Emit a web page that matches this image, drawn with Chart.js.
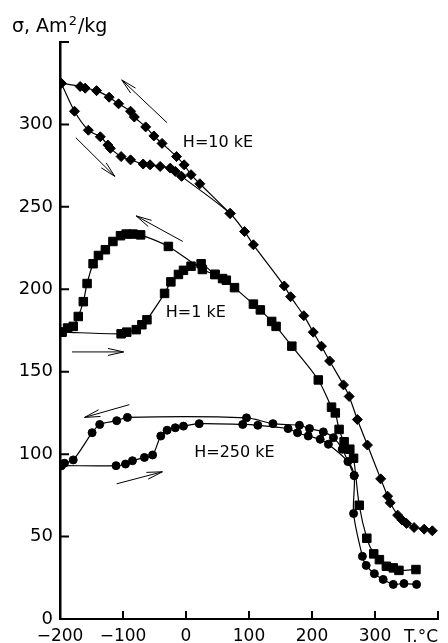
<!DOCTYPE html>
<html>
<head>
<meta charset="utf-8">
<script src="https://cdn.jsdelivr.net/npm/chart.js@4.4.1/dist/chart.umd.min.js"></script>
<style>
  html, body { margin: 0; padding: 0; background: #fff; }
  canvas { display: block; }
</style>
</head>
<body>
<canvas id="chart" width="448" height="643"></canvas>
<script>
const xTicks = [-200, -100, 0, 100, 200, 300, 400];
const yTicks = [0, 50, 100, 150, 200, 250, 300, 350];
const fieldLabels = ["H=10 kE", "H=1 kE", "H=250 kE"];

// [T, sigma] pairs
const h10Heating = [[-198, 325], [-177, 308], [-155, 296.5], [-136, 292.5], [-124, 287.5], [-120, 285.5],
  [-103, 280.5], [-88, 278.5], [-68, 276], [-57, 275.5], [-41, 274.5], [-25, 273.5], [-17, 271.5], [-7, 268.5],
  [70, 246], [93, 235], [107, 227], [156, 202], [166, 195.5], [187, 184], [202, 174], [215, 165.5],
  [228, 156.5], [250, 142], [259, 135], [272, 121], [288, 105.5], [309, 85], [320, 74.5], [324, 70.5],
  [336, 63], [343, 60], [350, 58], [362, 55.5], [378, 54.5], [391, 53.5]];
const h10Cooling = [[70, 246], [22, 264], [8, 269.5], [-3, 275.5], [-15, 280.5], [-38, 288.5], [-51, 293],
  [-64, 298.5], [-82, 304.5], [-88, 308], [-107, 312.5], [-122, 316.5], [-142, 320.5], [-160, 322],
  [-168, 323], [-198, 325]];

const h1Heating = [[-197, 174], [-103, 173], [-94, 174], [-79, 175.5], [-70, 178.5], [-62, 181.5],
  [-34, 197.5], [-24, 204.5], [-12, 209], [-4, 211.5], [8, 214], [24, 215.5], [46, 209], [58, 206.5],
  [64, 205.5], [77, 201], [107, 191], [118, 187.5], [136, 180.5], [143, 177.5], [168, 165.5], [210, 145],
  [231, 128.5], [237, 125], [243, 115], [251, 107.5], [260, 103], [266, 97.5], [275, 69], [287, 49],
  [298, 39.5], [307, 36], [318, 32], [329, 31], [338, 29.5], [365, 30]];
const h1Cooling = [[46, 209], [26, 212], [-28, 226], [-72, 233], [-84, 233.5], [-95, 233.5], [-104, 232.5],
  [-116, 229], [-128, 224], [-139, 220.5], [-147.5, 215.5], [-157, 203.5], [-163, 192.5], [-171, 183.5],
  [-179, 177.5], [-188, 176.5], [-197, 174]];

const h250Heating = [[-198, 93], [-111, 93], [-96, 94], [-85, 96], [-66, 98], [-53, 99.5], [-40, 111],
  [-30, 114.5], [-17, 116], [-4, 117], [21, 118.5], [90, 118], [114, 117.5], [162, 115.5], [177, 113],
  [194, 111], [213, 109], [226, 106], [257, 95.5], [267, 87], [266, 64], [280, 38], [286, 32.5],
  [299, 27.5], [313, 24], [329, 21], [346, 21.5], [366, 21]];
const h250Cooling = [[267, 87], [248, 103], [234, 110], [218, 113.5], [196, 115.5], [180, 117.5],
  [138, 118.5], [96, 122], [-93, 122.3], [-110, 120.3], [-137, 118], [-149, 113], [-179, 96.5],
  [-193, 94.5], [-198, 93]];

// arrows [T1, s1, T2, s2], head at the second point
const arrows = [[-30, 301, -102, 327], [-175, 292, -113, 268.5], [-5, 229, -79, 244.5],
  [-181, 162, -99, 162], [-90, 130, -161, 122.3], [-110, 82, -37.5, 89.3]];
const labelSpots = [[-5, 289], [-32, 186], [13, 101]];

const FONT = "'DejaVu Sans', sans-serif";

function branch(pairs, style, radius) {
  return {
    data: pairs.map(([x, y]) => ({ x, y })),
    borderColor: '#000',
    backgroundColor: '#000',
    borderWidth: 1.2,
    pointStyle: style,
    pointRadius: radius,
    pointBorderWidth: 1,
    tension: 0.3,
    showLine: true
  };
}

const extras = {
  id: 'extras',
  afterDatasetsDraw(chart) {
    const { ctx, chartArea, scales: { x, y } } = chart;
    ctx.save();
    ctx.strokeStyle = '#000';
    ctx.fillStyle = '#000';
    // inward ticks
    ctx.lineWidth = 2;
    ctx.beginPath();
    xTicks.forEach(v => {
      const px = x.getPixelForValue(v);
      ctx.moveTo(px, chartArea.bottom);
      ctx.lineTo(px, chartArea.bottom - 8);
    });
    yTicks.forEach(v => {
      const py = y.getPixelForValue(v);
      ctx.moveTo(chartArea.left, py);
      ctx.lineTo(chartArea.left + 9, py);
    });
    ctx.stroke();

    // arrows
    ctx.lineWidth = 1;
    arrows.forEach(([t1, s1, t2, s2]) => {
      const x1 = x.getPixelForValue(t1), y1 = y.getPixelForValue(s1);
      const x2 = x.getPixelForValue(t2), y2 = y.getPixelForValue(s2);
      const a = Math.atan2(y2 - y1, x2 - x1);
      ctx.beginPath();
      ctx.moveTo(x1, y1);
      ctx.lineTo(x2, y2);
      [-0.22, 0.22].forEach(d => {
        ctx.moveTo(x2, y2);
        ctx.lineTo(x2 - 16 * Math.cos(a + d), y2 - 16 * Math.sin(a + d));
      });
      ctx.stroke();
    });

    // field labels
    ctx.font = '16px ' + FONT;
    ctx.textBaseline = 'middle';
    ctx.textAlign = 'left';
    fieldLabels.forEach((txt, i) => {
      const [t, s] = labelSpots[i];
      ctx.fillText(txt, x.getPixelForValue(t), y.getPixelForValue(s));
    });

    // axis titles
    ctx.textBaseline = 'alphabetic';
    ctx.font = '19px ' + FONT;
    ctx.fillText('\u03c3, Am', 12, 32);
    let w = ctx.measureText('\u03c3, Am').width;
    ctx.font = '13px ' + FONT;
    ctx.fillText('2', 12 + w + 1, 25);
    w += ctx.measureText('2').width + 2;
    ctx.font = '19px ' + FONT;
    ctx.fillText('/kg', 12 + w, 32);

    ctx.font = '17px ' + FONT;
    ctx.fillText('T.\u00b0C', 404, 642);
    ctx.restore();
  }
};

new Chart(document.getElementById('chart'), {
  type: 'line',
  data: {
    datasets: [
      branch(h10Heating, 'rectRot', 5), branch(h10Cooling, 'rectRot', 5),
      branch(h1Heating, 'rect', 6), branch(h1Cooling, 'rect', 6),
      branch(h250Heating, 'circle', 4), branch(h250Cooling, 'circle', 4)
    ]
  },
  plugins: [extras],
  options: {
    responsive: false,
    devicePixelRatio: 1,
    animation: false,
    layout: { padding: { top: 42, right: 10, left: 0, bottom: 0 } },
    plugins: { legend: { display: false }, tooltip: { enabled: false } },
    scales: {
      x: {
        type: 'linear',
        min: -200, max: 400,
        afterBuildTicks: s => { s.ticks = xTicks.map(v => ({ value: v })); },
        afterFit: s => { s.height = 24; },
        grid: { display: false, drawTicks: false },
        border: { display: true, color: '#000', width: 2 },
        ticks: {
          color: '#000',
          padding: 7,
          maxRotation: 0,
          autoSkip: false,
          font: { family: FONT, size: 17 },
          callback: v => v === 400 ? '' : String(v).replace('-', '\u2212')
        }
      },
      y: {
        type: 'linear',
        min: 0, max: 350,
        afterBuildTicks: s => { s.ticks = yTicks.map(v => ({ value: v })); },
        afterFit: s => { s.width = 60; },
        grid: { display: false, drawTicks: false },
        border: { display: true, color: '#000', width: 2.5 },
        ticks: {
          color: '#000',
          padding: 7,
          autoSkip: false,
          font: { family: FONT, size: 18 },
          callback: v => v === 350 ? '' : String(v)
        }
      }
    }
  }
});
</script>
</body>
</html>
